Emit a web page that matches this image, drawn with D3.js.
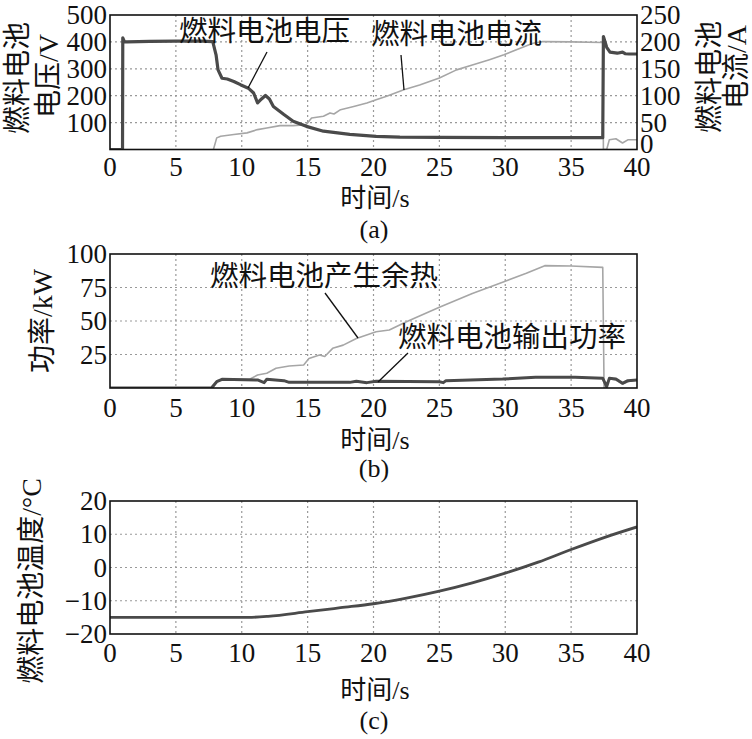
<!DOCTYPE html>
<html>
<head>
<meta charset="utf-8">
<script src="https://cdn.jsdelivr.net/npm/d3@7"></script>
<style>
  body { margin: 0; background: #fff; }
  text { font-family: "Liberation Serif", "Times New Roman", Times, "DejaVu Serif", "Noto Sans CJK SC", serif; fill: #111; }
</style>
</head>
<body>
<svg id="chart"></svg>
<script>
const width = 752;
const height = 739;

// (a) stack voltage / current
const voltTime = [0, 0.95, 0.97, 1.1, 1.3, 3, 5, 7, 7.8, 8.05, 8.2, 8.5, 8.9, 9.4, 9.9, 10.5, 10.9, 11.2, 11.5, 11.8, 12.1, 12.4, 13.2, 13.9, 14.9, 16.2, 18.2, 20.2, 22, 25, 30, 35, 37.4, 37.45, 37.7, 37.95, 38.5, 38.9, 39.1, 39.4, 40];
const voltVal = [0, 0, 415, 400, 400, 402, 403, 403, 401, 352, 296, 265, 262, 253, 241, 228, 210, 173, 188, 201, 188, 160, 130, 105, 86, 68, 56, 49, 46, 45, 44, 44, 44, 420, 380, 362, 358, 362, 356, 355, 355];
const currTime = [7.85, 8.1, 8.4, 9.4, 10.4, 11.2, 11.9, 12.9, 13.9, 14.9, 15.3, 16.2, 16.7, 17.0, 17.5, 18.5, 19.5, 20.2, 21, 22.3, 23.5, 25, 26.3, 27.5, 28.8, 29.9, 30.8, 32.1, 32.85, 35, 37.4, 37.45, 37.7, 37.9, 38.4, 38.9, 39.3, 40];
const currVal = [0, 21.6, 24.7, 27.8, 30.9, 37, 40, 44.4, 44.4, 46.3, 58.6, 61.7, 68, 66, 74, 80, 86.4, 92.6, 98.8, 111, 120, 133, 148, 157, 167, 176, 185, 197.5, 200.6, 200, 199, 0, 0, 18, 20, 12, 18, 18];

// (b) waste heat / output power
const heatTime = [7.8, 8.1, 8.5, 10.6, 11.2, 11.9, 12.6, 13.6, 14.7, 15.1, 15.9, 16.3, 16.9, 17.7, 18.7, 20.2, 21.2, 22.5, 25, 27.5, 29.9, 31.6, 33, 35, 37.4, 37.5, 37.9, 38.4, 38.9, 39.4, 40];
const heatVal = [0, 4.7, 6.5, 6.5, 9.7, 11, 14.7, 16.4, 17.2, 22, 24.6, 23.5, 29.6, 32, 37, 42, 43.3, 49.5, 60.2, 70.6, 79.3, 85.6, 91.3, 91, 90, 0, 7, 6, 3, 5, 6];
const powTime = [0, 7.7, 8.1, 8.5, 11.2, 11.7, 11.9, 13.2, 13.6, 18.2, 18.7, 19.5, 20.2, 25, 25.3, 25.5, 29.8, 32.3, 35.3, 37.4, 37.7, 37.9, 38.4, 38.9, 39.3, 40];
const powVal = [0, 0, 4.7, 6.5, 6, 4, 6.5, 5.5, 4.2, 4.2, 5, 4, 5, 4.7, 4, 5.5, 6.7, 8, 8, 7.2, 1, 7.2, 6.7, 3.5, 5.5, 6];

// (c) stack temperature
const tempTime = [0, 5, 10.5, 12, 15, 17.5, 20, 22.5, 25, 27.5, 30, 32.5, 35, 37.5, 40];
const tempVal = [-15, -15, -15, -14.7, -13.3, -12.1, -10.9, -9.2, -7.1, -4.6, -1.7, 1.6, 5.4, 9.0, 12.2];

const xTicks = [0, 5, 10, 15, 20, 25, 30, 35, 40];
const rightTicks = [0, 50, 100, 150, 200, 250];

const dark = "#4a4a4a";
const light = "#a6a6a6";

const svg = d3.select("#chart")
    .attr("width", width)
    .attr("height", height);

const x = d3.scaleLinear().domain([0, 40]).range([110, 637]);

const zip = (ts, vs) => ts.map((t, i) => [t, vs[i]]);

function panel(id, y, yTicks, gridTicks, tickBase, titleBase, capBase, cap) {
    const [y0, y1] = y.range();
    const g = svg.append("g");

    g.append("clipPath").attr("id", id)
        .append("rect")
        .attr("x", x(0)).attr("y", y1)
        .attr("width", x(40) - x(0)).attr("height", y0 - y1);

    // grid
    g.append("g").selectAll("line")
        .data(xTicks.slice(1, -1))
        .enter().append("line")
        .attr("x1", d => x(d)).attr("x2", d => x(d))
        .attr("y1", y1).attr("y2", y0)
        .attr("stroke", "#999").attr("stroke-width", 1.2)
        .attr("stroke-dasharray", "2,3");
    g.append("g").selectAll("line")
        .data(gridTicks)
        .enter().append("line")
        .attr("x1", x(0)).attr("x2", x(40))
        .attr("y1", d => y(d)).attr("y2", d => y(d))
        .attr("stroke", "#999").attr("stroke-width", 1.2)
        .attr("stroke-dasharray", "2,3");

    // x tick labels
    g.append("g").selectAll("text")
        .data(xTicks)
        .enter().append("text")
        .attr("x", d => x(d))
        .attr("y", tickBase)
        .attr("text-anchor", "middle")
        .attr("font-size", 27)
        .text(d => d);

    // left tick labels
    g.append("g").selectAll("text")
        .data(yTicks)
        .enter().append("text")
        .attr("x", x(0) - 3)
        .attr("y", d => y(d))
        .attr("dy", "0.34em")
        .attr("text-anchor", "end")
        .attr("font-size", 27)
        .text(d => d < 0 ? "\u2212" + Math.abs(d) : d);

    g.append("text")
        .attr("x", 375).attr("y", titleBase)
        .attr("text-anchor", "middle")
        .attr("font-size", 26)
        .text("时间/s");

    g.append("text")
        .attr("x", 374).attr("y", capBase)
        .attr("text-anchor", "middle")
        .attr("font-size", 26)
        .text(cap);

    const plot = g.append("g").attr("clip-path", `url(#${id})`);

    g.append("rect")
        .attr("x", x(0)).attr("y", y1)
        .attr("width", x(40) - x(0)).attr("height", y0 - y1)
        .attr("fill", "none").attr("stroke", "#111").attr("stroke-width", 1.6);

    return { g, plot };
}

function drawLine(plot, pts, xs, ys, color, w, curve) {
    plot.append("path")
        .datum(pts)
        .attr("fill", "none")
        .attr("stroke", color)
        .attr("stroke-width", w)
        .attr("stroke-linejoin", "round")
        .attr("d", d3.line().x(d => xs(d[0])).y(d => ys(d[1])).curve(curve || d3.curveLinear));
}

function leader(g, x1, y1, x2, y2) {
    g.append("line")
        .attr("x1", x1).attr("y1", y1).attr("x2", x2).attr("y2", y2)
        .attr("stroke", "#111").attr("stroke-width", 1.3);
}

function label(g, tx, ty, str, size) {
    g.append("text")
        .attr("x", tx).attr("y", ty)
        .attr("font-size", size || 28.5)
        .text(str);
}

function rotLabel(g, cx, cy, str) {
    g.append("text")
        .attr("transform", `translate(${cx},${cy}) rotate(-90)`)
        .attr("text-anchor", "middle")
        .attr("dominant-baseline", "central")
        .attr("font-size", 28)
        .text(str);
}

// ---- (a)
const yA = d3.scaleLinear().domain([0, 500]).range([149.5, 15]);
const yA2 = d3.scaleLinear().domain([0, 250]).range([149.5, 15]);
const a = panel("clipA", yA, [100, 200, 300, 400, 500], [100, 200, 300, 400], 176, 207, 238, "(a)");

a.g.append("g").selectAll("text")
    .data(rightTicks)
    .enter().append("text")
    .attr("x", x(40) + 3)
    .attr("y", d => yA2(d) - (d === 0 ? 6 : 0))
    .attr("dy", "0.34em")
    .attr("font-size", 27)
    .text(d => d);

drawLine(a.plot, zip(currTime, currVal), x, yA2, light, 1.6);
drawLine(a.plot, zip(voltTime, voltVal), x, yA, dark, 3.2);

rotLabel(a.g, 17, 78, "燃料电池");
rotLabel(a.g, 48, 76, "电压/V");
rotLabel(a.g, 709, 77, "燃料电池");
rotLabel(a.g, 736, 67, "电流/A");

label(a.g, 179, 41, "燃料电池电压");
label(a.g, 371, 44, "燃料电池电流");
leader(a.g, 267, 52, 248, 88);
leader(a.g, 401, 55, 404, 90);

// ---- (b)
const yB = d3.scaleLinear().domain([0, 100]).range([388, 254]);
const b = panel("clipB", yB, [25, 50, 75, 100], [25, 50, 75], 417, 449, 477, "(b)");

drawLine(b.plot, zip(heatTime, heatVal), x, yB, light, 1.6);
drawLine(b.plot, zip(powTime, powVal), x, yB, dark, 3);

rotLabel(b.g, 42, 321, "功率/kW");

label(b.g, 210, 286, "燃料电池产生余热");
label(b.g, 398, 347, "燃料电池输出功率");
leader(b.g, 325, 293, 358, 338);
leader(b.g, 408, 353, 378, 382);

// ---- (c)
const yC = d3.scaleLinear().domain([-20, 20]).range([634, 501]);
const c = panel("clipC", yC, [-20, -10, 0, 10, 20], [-10, 0, 10], 662, 699, 729, "(c)");

drawLine(c.plot, zip(tempTime, tempVal), x, yC, dark, 2.8, d3.curveMonotoneX);

rotLabel(c.g, 31, 581, "燃料电池温度/°C");
</script>
</body>
</html>
